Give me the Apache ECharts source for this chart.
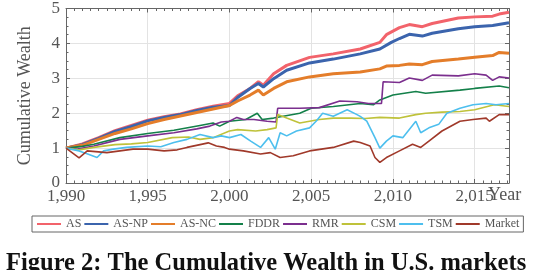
<!DOCTYPE html>
<html>
<head>
<meta charset="utf-8">
<script src="https://cdn.jsdelivr.net/npm/echarts@6/dist/echarts.min.js"></script>
<style>html,body{margin:0;padding:0;background:#fff;}#c{width:550px;height:270px;}</style>
</head>
<body>
<div id="c"></div>
<script>
// ---- data: [year, cumulative wealth] ----
const seriesNames = ['AS', 'AS-NP', 'AS-NC', 'FDDR', 'RMR', 'CSM', 'TSM', 'Market'];
const xTicks = [1990, 1995, 2000, 2005, 2010, 2015];
const yTicks = [0, 1, 2, 3, 4, 5];

const AS = [[1990,1.0],[1991,1.12],[1992,1.3],[1993,1.5],[1994,1.65],[1995,1.8],[1996,1.9],[1997,1.98],[1998,2.1],[1999,2.2],[2000,2.28],[2000.5,2.5],[2001.26,2.71],[2001.77,2.9],[2002.07,2.8],[2002.7,3.13],[2003.5,3.37],[2004.9,3.6],[2006.35,3.7],[2008,3.84],[2009.2,4.03],[2009.6,4.25],[2010.4,4.45],[2011.0,4.54],[2011.8,4.48],[2012.4,4.57],[2014.0,4.73],[2015,4.76],[2016.1,4.78],[2016.5,4.84],[2017.1,4.89]];
const AS_NP = [[1990,1.0],[1991,1.1],[1992,1.28],[1993,1.48],[1994,1.62],[1995,1.78],[1996,1.88],[1997,1.96],[1998,2.08],[1999,2.17],[2000,2.22],[2000.5,2.45],[2001.26,2.71],[2001.77,2.85],[2002.07,2.75],[2002.7,2.99],[2003.5,3.23],[2004.9,3.44],[2006.35,3.55],[2008,3.7],[2009.2,3.84],[2009.9,4.03],[2010.4,4.14],[2011.0,4.26],[2011.8,4.21],[2012.4,4.29],[2014,4.42],[2015,4.48],[2016.1,4.51],[2017.1,4.59]];
const AS_NC = [[1990,1.0],[1991,1.08],[1992,1.25],[1993,1.42],[1994,1.55],[1995,1.7],[1996,1.82],[1997,1.92],[1998,2.02],[1999,2.12],[2000,2.22],[2000.5,2.35],[2001.26,2.52],[2001.77,2.66],[2002.07,2.52],[2002.7,2.71],[2003.5,2.9],[2004.9,3.04],[2006.35,3.13],[2008,3.18],[2009.2,3.27],[2009.6,3.35],[2010.4,3.37],[2011.0,3.41],[2011.8,3.39],[2012.4,3.48],[2014,3.55],[2015,3.6],[2016.1,3.65],[2016.5,3.74],[2017.1,3.72]];
const FDDR = [[1990,1.0],[1991,1.05],[1991.7,1.11],[1993.3,1.3],[1995,1.42],[1996.6,1.51],[1998.2,1.65],[1999,1.72],[1999.4,1.63],[2000,1.77],[2001,1.82],[2001.7,2.0],[2002,1.82],[2002.7,1.86],[2004.3,2.0],[2005,2.14],[2006.35,2.19],[2008,2.28],[2008.8,2.24],[2009.2,2.38],[2010,2.52],[2011.4,2.62],[2012,2.57],[2014.1,2.66],[2015,2.71],[2016.5,2.78],[2017.1,2.73]];
const RMR = [[1990,1.0],[1990.7,0.97],[1991.7,1.06],[1993.3,1.25],[1995,1.35],[1996.6,1.44],[1998,1.55],[1998.8,1.63],[1999.5,1.75],[2000,1.77],[2000.45,1.88],[2000.85,1.82],[2001.5,1.82],[2002.3,1.77],[2002.85,1.75],[2002.95,2.14],[2004.3,2.14],[2005.5,2.16],[2006.75,2.35],[2007.8,2.33],[2008.5,2.28],[2009.3,2.28],[2009.4,2.9],[2010.4,2.88],[2011,3.01],[2011.8,2.94],[2012.4,3.09],[2014,3.07],[2015,3.13],[2015.7,3.09],[2016.1,2.94],[2016.5,3.04],[2017.1,3.01]];
const CSM = [[1990,1.0],[1990.8,0.95],[1991.7,1.02],[1993,1.1],[1994,1.12],[1995,1.16],[1996.5,1.3],[1997.5,1.32],[1998.2,1.25],[1999,1.3],[2000,1.49],[2000.5,1.53],[2001.6,1.49],[2002.3,1.53],[2002.85,1.58],[2002.95,1.96],[2003.5,1.86],[2004.3,1.72],[2004.9,1.77],[2005.5,1.82],[2006.35,1.86],[2007.4,1.86],[2008.3,1.85],[2009.2,1.88],[2010.4,1.86],[2011.4,1.96],[2012,2.0],[2013,2.03],[2014.1,2.05],[2015,2.1],[2016.2,2.24],[2017.1,2.19]];
const TSM = [[1990,1.0],[1990.8,0.92],[1991.2,0.85],[1991.9,0.73],[1992.3,0.92],[1992.9,0.97],[1993.7,1.02],[1995,1.06],[1995.8,1.04],[1996.6,1.16],[1997.4,1.25],[1998.2,1.39],[1999,1.3],[1999.5,1.35],[2000,1.3],[2000.7,1.39],[2001.3,1.2],[2001.9,1.02],[2002.4,1.3],[2002.8,0.97],[2003.1,1.44],[2003.5,1.35],[2004.1,1.49],[2004.9,1.58],[2005.3,1.77],[2005.7,2.0],[2006.35,1.91],[2007.2,2.1],[2007.8,1.96],[2008,1.91],[2008.4,1.77],[2008.9,1.3],[2009.2,1.0],[2009.6,1.2],[2010,1.35],[2010.6,1.3],[2011.4,1.77],[2011.7,1.44],[2012.2,1.58],[2012.8,1.68],[2013.3,2.0],[2014.1,2.14],[2014.9,2.24],[2015.7,2.28],[2016.3,2.24],[2017.1,2.28]];
const Market = [[1990,1.0],[1990.8,0.72],[1991.3,0.92],[1992.5,0.87],[1993.3,0.92],[1994.1,0.97],[1995,0.97],[1996,0.92],[1996.8,0.95],[1997.4,1.02],[1998.2,1.1],[1998.7,1.15],[1999.2,1.06],[1999.7,1.02],[2000,0.97],[2000.85,0.92],[2001.9,0.83],[2002.5,0.87],[2003.1,0.73],[2003.9,0.78],[2004.9,0.92],[2006.35,1.02],[2007.6,1.2],[2008,1.16],[2008.6,1.06],[2008.9,0.73],[2009.2,0.59],[2009.6,0.73],[2010.4,0.92],[2011.2,1.11],[2011.7,1.02],[2012.2,1.2],[2013,1.49],[2014.1,1.77],[2014.9,1.82],[2015.7,1.86],[2015.9,1.77],[2016.5,1.96],[2017.1,1.96]];

const seriesData = [AS, AS_NP, AS_NC, FDDR, RMR, CSM, TSM, Market];
const colors = ['#f2636b', '#3b64ad', '#e47d2a', '#14804a', '#7b2f8e', '#bfc23a', '#4dbfee', '#a0392a'];
const widths = [3, 3, 3, 1.6, 1.6, 1.6, 1.6, 1.6];

const serif = 'Liberation Serif';
const chart = echarts.init(document.getElementById('c'), null, { renderer: 'canvas' });

function xAxisBase(pos) {
  return {
    type: 'value', min: xTicks[0], max: 2017.1, interval: 5, position: pos,
    axisLine: { show: true, onZero: false, lineStyle: { color: '#666', width: 1 } },
    axisTick: { show: true, inside: true, length: 4, lineStyle: { color: '#666' } },
    minorTick: { show: true, splitNumber: 10, length: 2.5, lineStyle: { color: '#666' } },
    splitLine: { show: pos === 'bottom', lineStyle: { color: '#e3e3e3', width: 1 } },
    axisLabel: { show: pos === 'bottom', showMaxLabel: false, margin: 5, fontFamily: serif, fontSize: 17, color: '#555' }
  };
}
function yAxisBase(pos) {
  return {
    type: 'value', min: yTicks[0], max: yTicks[yTicks.length - 1], interval: 1, position: pos,
    axisLine: { show: true, lineStyle: { color: '#666', width: 1 } },
    axisTick: { show: true, inside: true, length: 4, lineStyle: { color: '#666' } },
    minorTick: { show: true, splitNumber: 4, length: 2.5, lineStyle: { color: '#666' } },
    splitLine: { show: pos === 'left', lineStyle: { color: '#e3e3e3', width: 1 } },
    axisLabel: { show: pos === 'left', margin: 6, fontFamily: serif, fontSize: 17, color: '#555' }
  };
}

const xb = xAxisBase('bottom');
xb.name = 'Year';
xb.nameLocation = 'end';
xb.nameGap = -21;
xb.nameMoveOverlap = false;
xb.nameTextStyle = { fontFamily: serif, fontSize: 18, color: '#555', align: 'left', verticalAlign: 'top', padding: [3, 0, 0, 0] };
const yl = yAxisBase('left');
yl.name = 'Cumulative Wealth';
yl.nameLocation = 'middle';
yl.nameGap = 32;
yl.nameTextStyle = { fontFamily: serif, fontSize: 18, color: '#555' };

chart.setOption({
  animation: false,
  backgroundColor: '#fff',
  title: {
    text: 'Figure 2: The Cumulative Wealth in U.S. markets',
    left: 1, top: 246,
    textStyle: { fontFamily: serif, fontSize: 24.5, fontWeight: 'bold', color: '#111' }
  },
  grid: { left: 66, right: 41, top: 6, bottom: 87, containLabel: false },
  legend: {
    left: 32, top: 216,
    itemWidth: 24, itemHeight: 12, itemGap: 2,
    padding: [2, 4, 2, 4],
    borderColor: '#666', borderWidth: 1, borderRadius: 0,
    itemStyle: { color: 'rgba(0,0,0,0)', borderWidth: 0, opacity: 0 },
    textStyle: { fontFamily: serif, fontSize: 12, color: '#555' },
    data: seriesNames
  },
  xAxis: [xb, xAxisBase('top')],
  yAxis: [yl, yAxisBase('right')],
  series: seriesNames.map((n, i) => ({
    name: n, type: 'line', data: seriesData[i], xAxisIndex: 0, yAxisIndex: 0,
    symbol: 'none', smooth: false,
    lineStyle: { color: colors[i], width: widths[i] },
    itemStyle: { color: colors[i] }
  }))
});
</script>
</body>
</html>
